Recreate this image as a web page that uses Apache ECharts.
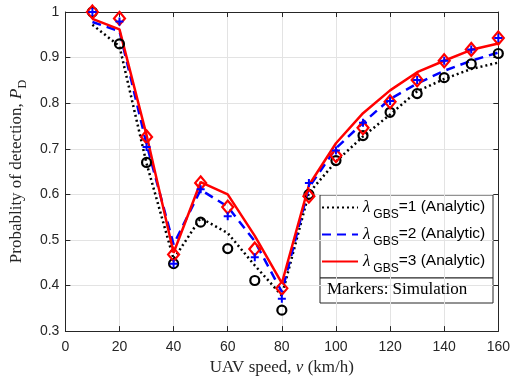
<!DOCTYPE html>
<html>
<head>
<meta charset="utf-8">
<script src="https://cdn.jsdelivr.net/npm/echarts@6/dist/echarts.min.js"></script>
<style>
html,body{margin:0;padding:0;background:#fff;}
#c{width:513px;height:381px;}
</style>
</head>
<body>
<div id="c"></div>
<script>
// UAV speed (km/h)
var speeds = [10, 20, 30, 40, 50, 60, 70, 80, 90, 100, 110, 120, 130, 140, 150, 160];
// Analytic curves
var analytic1 = [0.972, 0.925, 0.668, 0.458, 0.548, 0.515, 0.444, 0.378, 0.603, 0.672, 0.727, 0.775, 0.826, 0.853, 0.875, 0.889];
var analytic2 = [0.978, 0.958, 0.710, 0.490, 0.610, 0.573, 0.497, 0.386, 0.615, 0.701, 0.757, 0.809, 0.843, 0.871, 0.893, 0.911];
var analytic3 = [0.985, 0.962, 0.730, 0.472, 0.627, 0.600, 0.509, 0.405, 0.620, 0.712, 0.778, 0.828, 0.868, 0.893, 0.917, 0.931];
// Simulation markers
var sim1 = [1.000, 0.930, 0.670, 0.448, 0.539, 0.481, 0.411, 0.346, 0.600, 0.674, 0.729, 0.780, 0.821, 0.856, 0.886, 0.909];
var sim2 = [1.000, 0.979, 0.704, 0.448, 0.611, 0.552, 0.462, 0.371, 0.625, 0.696, 0.757, 0.805, 0.851, 0.893, 0.918, 0.943];
var sim3 = [1.000, 0.986, 0.726, 0.468, 0.625, 0.572, 0.480, 0.394, 0.596, 0.685, 0.746, 0.803, 0.851, 0.893, 0.918, 0.943];
// Legend labels
var lambdas = [1, 2, 3];
var legendNames = ['GBS=1 (Analytic)', 'GBS=2 (Analytic)', 'GBS=3 (Analytic)'];

function pairs(ys) { return speeds.map(function (x, i) { return [x, ys[i]]; }); }

var sans = 'Liberation Sans, Arial, sans-serif';
var serif = 'Liberation Serif, Times New Roman, serif';
var axisColor = '#262626';
var gridColor = '#e3e3e3';

var chart = echarts.init(document.getElementById('c'), null, {renderer: 'canvas'});

var baseAxis = {
  axisLine: {show: true, onZero: false, lineStyle: {color: axisColor, width: 1}},
  axisTick: {show: true, inside: true, length: 5, lineStyle: {color: axisColor}}
};

var option = {
  animation: false,
  backgroundColor: '#fff',
  grid: {left: 55, right: 13, top: 12, bottom: 44},
  xAxis: [
    Object.assign({}, baseAxis, {
      type: 'value', min: 0, max: 160, interval: 20, position: 'bottom',
      axisLabel: {color: axisColor, fontFamily: sans, fontSize: 14, margin: 9},
      splitLine: {show: true, lineStyle: {color: gridColor, width: 1}},
      name: '{t|UAV speed, }{i|v}{t| (km/h)}',
      nameLocation: 'middle', nameGap: 26,
      nameTextStyle: {
        rich: {
          t: {fontFamily: serif, fontSize: 17, color: axisColor},
          i: {fontFamily: serif, fontSize: 17, fontStyle: 'italic', color: axisColor}
        }
      }
    }),
    Object.assign({}, baseAxis, {
      type: 'value', min: 0, max: 160, interval: 20, position: 'top',
      axisLabel: {show: false}, splitLine: {show: false}
    })
  ],
  yAxis: [
    Object.assign({}, baseAxis, {
      type: 'value', min: 0.3, max: 1, interval: 0.1, position: 'left',
      axisLabel: {
        color: axisColor, fontFamily: sans, fontSize: 14, margin: 6,
        formatter: function (v) { return String(Math.round(v * 10) / 10); }
      },
      splitLine: {show: true, lineStyle: {color: gridColor, width: 1}},
      name: '{t|Probablity of detection, }{i|P}{s|D}',
      nameLocation: 'middle', nameGap: 28,
      nameTextStyle: {
        rich: {
          t: {fontFamily: serif, fontSize: 17, color: axisColor, lineHeight: 19, verticalAlign: 'top'},
          i: {fontFamily: serif, fontSize: 17, fontStyle: 'italic', color: axisColor, lineHeight: 19, verticalAlign: 'top'},
          s: {fontFamily: serif, fontSize: 12, color: axisColor, lineHeight: 12, padding: [9, 0, 0, 0], verticalAlign: 'top'}
        }
      }
    }),
    Object.assign({}, baseAxis, {
      type: 'value', min: 0.3, max: 1, interval: 0.1, position: 'right',
      axisLabel: {show: false}, splitLine: {show: false}
    })
  ],
  legend: {
    show: true,
    orient: 'vertical',
    left: 321, top: 199,
    itemWidth: 36, itemHeight: 14, itemGap: 5,
    padding: 0,
    data: legendNames,
    itemStyle: {color: 'rgba(0,0,0,0)', borderColor: 'rgba(0,0,0,0)', borderWidth: 0},
    formatter: function (name) {
      return '{l|λ}{s|GBS}{t|' + name.slice(3) + '}';
    },
    textStyle: {
      rich: {
        l: {fontFamily: serif, fontSize: 17, fontStyle: 'italic', color: '#000', lineHeight: 17, verticalAlign: 'top', padding: [0, 3, 0, 0]},
        s: {fontFamily: sans, fontSize: 12, color: '#000', lineHeight: 12, padding: [10, 0, 0, 0], verticalAlign: 'top'},
        t: {fontFamily: sans, fontSize: 15.5, color: '#000', lineHeight: 17, verticalAlign: 'top'}
      }
    }
  },
  graphic: [
    {type: 'rect', shape: {x: 320, y: 195, width: 173, height: 83}, style: {fill: '#fff', stroke: axisColor, lineWidth: 1}, z: 0},
    {type: 'rect', shape: {x: 320, y: 278, width: 173, height: 25}, style: {fill: '#fff', stroke: axisColor, lineWidth: 1}, z: 0},
    {type: 'text', left: 327, top: 281, style: {text: 'Markers: Simulation', font: '17px Liberation Serif', fill: '#000'}, z: 1}
  ],
  series: [
    {
      name: legendNames[0], type: 'line', data: pairs(analytic1), symbol: 'none',
      lineStyle: {color: '#000', width: 2.5, type: [2, 3]}, itemStyle: {color: '#000'}, z: 2
    },
    {
      name: legendNames[1], type: 'line', data: pairs(analytic2), symbol: 'none',
      lineStyle: {color: '#0000ff', width: 2.5, type: [9, 6]}, itemStyle: {color: '#0000ff'}, z: 2
    },
    {
      name: legendNames[2], type: 'line', data: pairs(analytic3), symbol: 'none',
      lineStyle: {color: '#ff0000', width: 2.5, type: 'solid'}, itemStyle: {color: '#ff0000'}, z: 2
    },
    {
      name: 'sim1', type: 'scatter', data: pairs(sim1), symbol: 'circle', symbolSize: 9,
      itemStyle: {color: 'rgba(0,0,0,0)', borderColor: '#000', borderWidth: 2.2, opacity: 1}, z: 3
    },
    {
      name: 'sim3', type: 'scatter', data: pairs(sim3), symbol: 'diamond', symbolSize: [11, 13],
      itemStyle: {color: 'rgba(0,0,0,0)', borderColor: '#ff0000', borderWidth: 2.2, opacity: 1}, z: 4
    },
    {
      name: 'sim2', type: 'scatter', data: pairs(sim2),
      symbol: 'path://M3,0h2v3h3v2h-3v3h-2v-3h-3v-2h3z', symbolSize: 8,
      itemStyle: {color: '#0000ff', opacity: 1}, z: 5
    }
  ]
};
chart.setOption(option);
</script>
</body>
</html>
